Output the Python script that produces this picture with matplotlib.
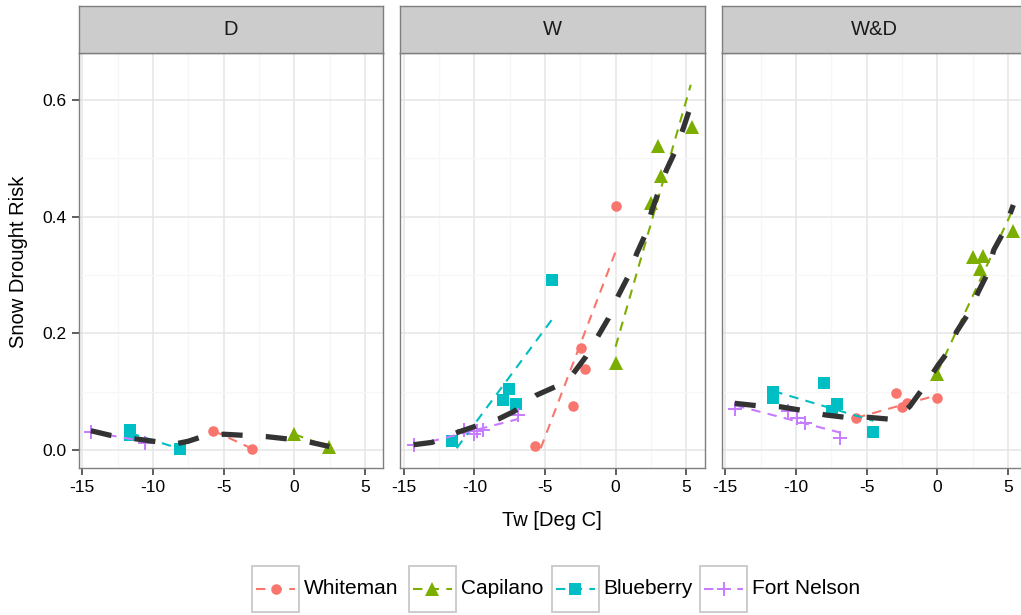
import matplotlib
matplotlib.use('Agg')
import matplotlib.pyplot as plt
from matplotlib.patches import Rectangle
from matplotlib.lines import Line2D

plt.rcParams['font.family'] = ['Liberation Sans', 'DejaVu Sans']
plt.rcParams['axes.unicode_minus'] = False

# ---------------- data ----------------
panels = ['D', 'W', 'W&D']
stations = ['Whiteman', 'Capilano', 'Blueberry', 'Fort Nelson']
station_colors = ['#F8766D', '#7CAE00', '#00BFC4', '#C77CFF']
station_markers = ['o', '^', 's', '+']

x_ticks = [-15, -10, -5, 0, 5]
x_ticklabels = ['-15', '-10', '-5', '0', '5']
y_ticks = [0.0, 0.2, 0.4, 0.6]
y_ticklabels = ['0.0', '0.2', '0.4', '0.6']

# observed points  (panel D)
D_whiteman_x = [-5.73, -2.97]
D_whiteman_y = [0.033, 0.002]
D_capilano_x = [0.0, 2.48]
D_capilano_y = [0.027, 0.005]
D_blueberry_x = [-11.62, -11.62, -8.09]
D_blueberry_y = [0.034, 0.026, 0.001]
D_fortnelson_x = [-14.4, -10.55]
D_fortnelson_y = [0.030, 0.012]

# observed points  (panel W)
W_whiteman_x = [-5.7, -2.99, -2.47, -2.17, 0.0]
W_whiteman_y = [0.006, 0.075, 0.175, 0.138, 0.419]
W_capilano_x = [0.0, 2.48, 3.19, 3.02, 5.39]
W_capilano_y = [0.149, 0.423, 0.470, 0.521, 0.553]
W_blueberry_x = [-11.6, -7.95, -7.52, -7.05, -4.52]
W_blueberry_y = [0.016, 0.085, 0.104, 0.079, 0.291]
W_fortnelson_x = [-14.3, -10.7, -10.0, -9.8, -9.4, -6.9]
W_fortnelson_y = [0.009, 0.035, 0.028, 0.032, 0.034, 0.060]

# observed points  (panel W&D)
WD_whiteman_x = [-5.75, -2.92, -2.52, -2.17, 0.0]
WD_whiteman_y = [0.054, 0.098, 0.074, 0.081, 0.089]
WD_capilano_x = [0.0, 2.5, 3.21, 3.02, 5.38]
WD_capilano_y = [0.130, 0.330, 0.333, 0.310, 0.376]
WD_blueberry_x = [-11.6, -11.6, -8.02, -7.08, -7.47, -4.53]
WD_blueberry_y = [0.099, 0.089, 0.114, 0.078, 0.067, 0.030]
WD_fortnelson_x = [-14.34, -10.55, -9.95, -9.36, -6.89]
WD_fortnelson_y = [0.071, 0.066, 0.054, 0.046, 0.020]

# per-station fitted lines (end points)
D_whiteman_fit_x = [-5.73, -2.97]
D_whiteman_fit_y = [0.033, 0.002]
D_capilano_fit_x = [0.0, 2.48]
D_capilano_fit_y = [0.027, 0.005]
D_blueberry_fit_x = [-11.62, -8.09]
D_blueberry_fit_y = [0.029, 0.002]
D_fortnelson_fit_x = [-14.4, -10.0]
D_fortnelson_fit_y = [0.031, 0.012]

W_whiteman_fit_x = [-5.3, 0.0]
W_whiteman_fit_y = [0.003, 0.340]
W_capilano_fit_x = [0.0, 5.32]
W_capilano_fit_y = [0.177, 0.626]
W_blueberry_fit_x = [-11.25, -4.52]
W_blueberry_fit_y = [0.003, 0.223]
W_fortnelson_fit_x = [-14.3, -6.9]
W_fortnelson_fit_y = [0.007, 0.053]

WD_whiteman_fit_x = [-5.75, 0.0]
WD_whiteman_fit_y = [0.055, 0.094]
WD_capilano_fit_x = [0.0, 5.38]
WD_capilano_fit_y = [0.133, 0.414]
WD_blueberry_fit_x = [-11.6, -4.53]
WD_blueberry_fit_y = [0.101, 0.050]
WD_fortnelson_fit_x = [-14.3, -6.9]
WD_fortnelson_fit_y = [0.0765, 0.030]

# overall smooth (all stations)
D_all_x = [-14.4, -13.0, -11.5, -10.0, -8.5, -7.5, -6.5, -5.0, -3.5, -2.0, -0.5, 1.0, 2.48]
D_all_y = [0.033, 0.025, 0.020, 0.015, 0.010, 0.015, 0.023, 0.027, 0.025, 0.023, 0.019, 0.014, 0.006]
W_all_x = [-14.3, -13.0, -11.1, -10.0, -8.3, -7.2, -5.6, -4.3, -3.0, -2.1, -1.2, -0.5, 0.2, 0.9,
           1.5, 2.1, 2.55, 3.0, 3.6, 4.2, 4.8, 5.39]
W_all_y = [0.009, 0.013, 0.031, 0.040, 0.053, 0.066, 0.094, 0.108, 0.131, 0.160, 0.197, 0.226,
           0.265, 0.298, 0.337, 0.369, 0.409, 0.440, 0.480, 0.511, 0.552, 0.595]
WD_all_x = [-14.34, -12.8, -11.1, -9.6, -7.9, -6.5, -4.9, -3.45, -2.6, -1.94, -1.1, 0.07, 0.78,
            1.37, 2.2, 2.9, 3.5, 4.0, 4.7, 5.38]
WD_all_y = [0.080, 0.076, 0.074, 0.068, 0.060, 0.056, 0.056, 0.053, 0.060, 0.075, 0.103, 0.146,
            0.169, 0.203, 0.234, 0.271, 0.300, 0.343, 0.374, 0.420]

points = {
    'D': [(D_whiteman_x, D_whiteman_y), (D_capilano_x, D_capilano_y),
          (D_blueberry_x, D_blueberry_y), (D_fortnelson_x, D_fortnelson_y)],
    'W': [(W_whiteman_x, W_whiteman_y), (W_capilano_x, W_capilano_y),
          (W_blueberry_x, W_blueberry_y), (W_fortnelson_x, W_fortnelson_y)],
    'W&D': [(WD_whiteman_x, WD_whiteman_y), (WD_capilano_x, WD_capilano_y),
            (WD_blueberry_x, WD_blueberry_y), (WD_fortnelson_x, WD_fortnelson_y)],
}
fits = {
    'D': [(D_whiteman_fit_x, D_whiteman_fit_y), (D_capilano_fit_x, D_capilano_fit_y),
          (D_blueberry_fit_x, D_blueberry_fit_y), (D_fortnelson_fit_x, D_fortnelson_fit_y)],
    'W': [(W_whiteman_fit_x, W_whiteman_fit_y), (W_capilano_fit_x, W_capilano_fit_y),
          (W_blueberry_fit_x, W_blueberry_fit_y), (W_fortnelson_fit_x, W_fortnelson_fit_y)],
    'W&D': [(WD_whiteman_fit_x, WD_whiteman_fit_y), (WD_capilano_fit_x, WD_capilano_fit_y),
            (WD_blueberry_fit_x, WD_blueberry_fit_y), (WD_fortnelson_fit_x, WD_fortnelson_fit_y)],
}
overall = {'D': (D_all_x, D_all_y), 'W': (W_all_x, W_all_y), 'W&D': (WD_all_x, WD_all_y)}

# ---------------- layout ----------------
FW, FH = 1021, 615
fig = plt.figure(figsize=(FW / 100, FH / 100), dpi=100)
fig.patch.set_facecolor('white')

panel_lefts = [78.7, 400.0, 721.7]
panel_w = 304.6
panel_top, panel_bot, strip_top = 53.3, 468.3, 5.7

marker_sizes = {'o': 7.6, '^': 10.0, 's': 8.0, '+': 10.0}
station_ls = (0, (4.5, 3.5))
overall_ls = (0, (4.0, 4.4))

for i, pname in enumerate(panels):
    l = panel_lefts[i]
    ax = fig.add_axes([l / FW, 1 - panel_bot / FH, panel_w / FW, (panel_bot - panel_top) / FH])
    ax.set_xlim(-15.26, 6.30)
    ax.set_ylim(-0.0314, 0.680)
    ax.set_xticks(x_ticks)
    ax.set_xticklabels(x_ticklabels)
    ax.set_xticks([-12.5, -7.5, -2.5, 2.5], minor=True)
    ax.set_yticks(y_ticks)
    ax.set_yticks([0.1, 0.3, 0.5], minor=True)
    ax.grid(which='major', color='#E5E5E5', lw=1.1, zorder=0)
    ax.grid(which='minor', color='#F7F7F7', lw=0.9, zorder=0)
    ax.set_axisbelow(True)
    ax.tick_params(which='minor', length=0)
    ax.tick_params(which='major', length=5, width=1.1, color='#333333',
                   labelsize=12.5, labelcolor='black', pad=3.5)
    if i == 0:
        ax.set_yticklabels(y_ticklabels)
    else:
        ax.tick_params(axis='y', which='both', left=False, labelleft=False)
    for sp in ax.spines.values():
        sp.set_color('#7F7F7F')
        sp.set_linewidth(1.0)

    for k in range(4):
        px, py = points[pname][k]
        m = station_markers[k]
        ax.plot(px, py, linestyle='none', marker=m, ms=marker_sizes[m],
                color=station_colors[k], mew=1.4 if m == '+' else 0.0, zorder=3)
    for k in range(4):
        fx, fy = fits[pname][k]
        ax.plot(fx, fy, color=station_colors[k], lw=1.5, linestyle=station_ls,
                dash_capstyle='butt', zorder=4)
    ox, oy = overall[pname]
    ax.plot(ox, oy, color='#333333', lw=3.8, linestyle=overall_ls,
            dash_capstyle='butt', zorder=5)

    # strip
    sax = fig.add_axes([l / FW, 1 - panel_top / FH, panel_w / FW, (panel_top - strip_top) / FH])
    sax.set_xticks([]); sax.set_yticks([])
    sax.set_facecolor('#CCCCCC')
    for sp in sax.spines.values():
        sp.set_color('#7F7F7F')
        sp.set_linewidth(1.0)
    sax.text(0.5, 0.5, pname, ha='center', va='center', fontsize=14.5, color='#1A1A1A',
             transform=sax.transAxes)

# axis titles
fig.text(552 / FW, 1 - 521 / FH, 'Tw [Deg C]', ha='center', va='center', fontsize=14.5)
fig.text(18 / FW, 1 - 262 / FH, 'Snow Drought Risk', ha='center', va='center',
         rotation=90, fontsize=14.5)

# legend (drawn in pixel coordinates)
lax = fig.add_axes([0, 0, 1, 1], facecolor='none')
lax.set_xlim(0, FW)
lax.set_ylim(FH, 0)
lax.axis('off')
key_lefts = [252.2, 408.6, 551.6, 700.2]
key_w, key_h = 47.0, 46.0
key_top = 566.0
for k in range(4):
    kl = key_lefts[k]
    lax.add_patch(Rectangle((kl, key_top), key_w, key_h, facecolor='white',
                            edgecolor='#CCCCCC', lw=1.4))
    cy = key_top + key_h / 2
    lax.add_line(Line2D([kl + 4, kl + key_w - 4], [cy, cy], color=station_colors[k], lw=1.5,
                        linestyle=(0, (4.5, 3.5))))
    m = station_markers[k]
    lax.plot([kl + key_w / 2], [cy], marker=m, ms=marker_sizes[m], color=station_colors[k],
             mew=1.4 if m == '+' else 0.0, linestyle='none')
    lax.text(kl + key_w + 5, cy, stations[k], ha='left', va='center', fontsize=15)

fig.savefig('out.png', dpi=100)
